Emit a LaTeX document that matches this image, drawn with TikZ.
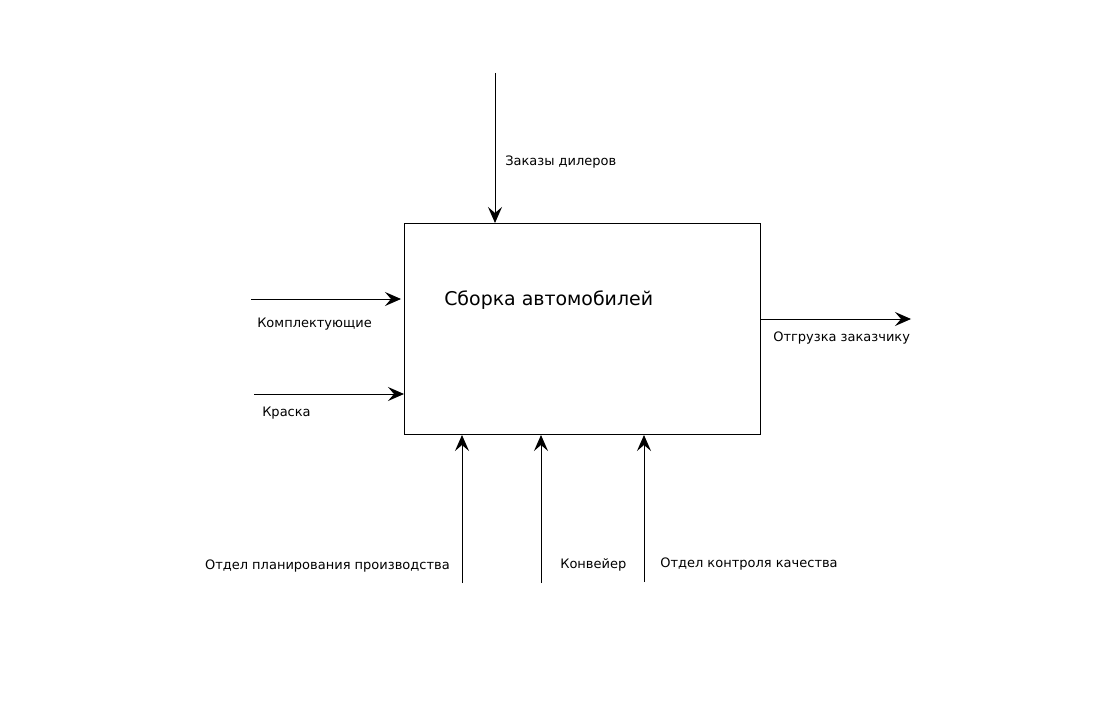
\documentclass[tikz,border=0pt]{standalone}
\usepackage{fontspec}
\setmainfont{DejaVu Sans}
\usetikzlibrary{arrows.meta}
\begin{document}
\begin{tikzpicture}[x=0.75pt,y=-0.75pt,
  flow/.style={line width=0.75pt,-{Stealth[length=12pt,width=10.5pt,inset=4.5pt]}},
  lbl/.style={inner sep=0pt,font=\fontsize{9.75}{12}\selectfont},
  func/.style={draw,line width=0.75pt,inner sep=0pt}]
\useasboundingbox (0,0) rectangle (1104,717);
\node[func,minimum width=356*0.75pt,minimum height=211*0.75pt,anchor=north west] (box) at (404,223) {};
\node[inner sep=0pt,anchor=west,font=\fontsize{14.2}{17}\selectfont] (title) at (444,300) {Сборка автомобилей};
% top control
\coordinate (ctop) at (495,73);
\draw[flow] (ctop) -- (box.north west -| ctop);
\node[lbl,anchor=west] (lctrl) at (505,162) {Заказы дилеров};
% inputs
\coordinate (in1) at (251,299);
\coordinate (in1e) at (401,299);
\draw[flow] (in1) -- (in1e);
\node[lbl,anchor=west] (lin1) at (257,324) {Комплектующие};
\coordinate (in2) at (254,394);
\draw[flow] (in2) -- (in2 -| box.west);
\node[lbl,anchor=west] (lin2) at (262,413) {Краска};
% output
\coordinate (out) at (911,319);
\draw[flow] (out -| box.east) -- (out);
\node[lbl,anchor=west] (lout) at (773,338) {Отгрузка заказчику};
% mechanisms
\coordinate (m1) at (462,583);
\coordinate (m2) at (541,583);
\coordinate (m3) at (644,582);
\draw[flow] (m1) -- (m1 |- box.south);
\draw[flow] (m2) -- (m2 |- box.south);
\draw[flow] (m3) -- (m3 |- box.south);
\node[lbl,anchor=east] (lm1) at (450,566) {Отдел планирования производства};
\node[lbl,anchor=west] (lm2) at (560,565) {Конвейер};
\node[lbl,anchor=west] (lm3) at (660,564) {Отдел контроля качества};
\end{tikzpicture}
\end{document}
